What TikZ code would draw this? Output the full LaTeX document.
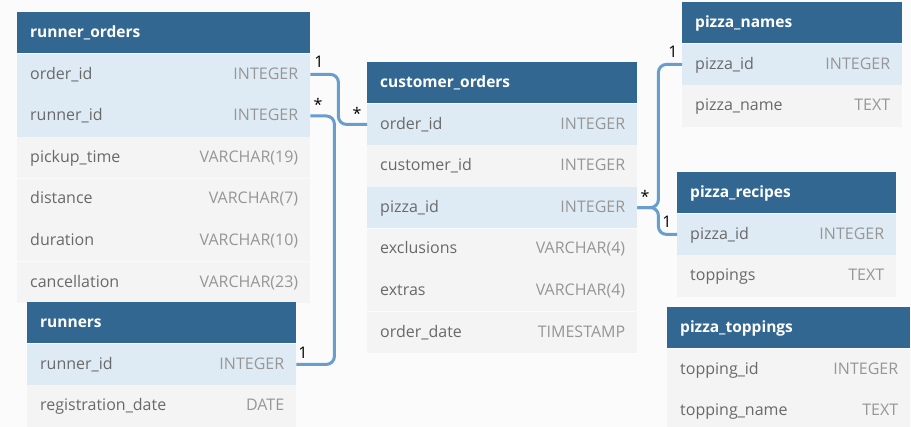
\documentclass[tikz,border=0pt]{standalone}
\usepackage{fontspec}
\setmainfont{Open Sans}
\definecolor{bgc}{RGB}{251,251,251}
\definecolor{hdrc}{RGB}{50,103,145}
\definecolor{keyc}{RGB}{222,235,245}
\definecolor{rowc}{RGB}{244,244,244}
\definecolor{fieldc}{RGB}{105,105,105}
\definecolor{typec}{RGB}{150,150,150}
\definecolor{relc}{RGB}{104,158,205}
\tikzset{
  hdrbox/.style={fill=hdrc, draw=none, inner sep=0pt, minimum height=41.2pt, anchor=north west},
  hdrtxt/.style={text=white, font=\fontsize{15.5}{18}\selectfont\bfseries, inner sep=0pt, anchor=base west},
  rowbox/.style={draw=none, inner sep=0pt, minimum height=41.2pt, anchor=north west},
  fieldtxt/.style={text=fieldc, font=\fontsize{16}{19}\selectfont, inner sep=0pt},
  typetxt/.style={text=typec, font=\fontsize{16}{19}\selectfont, inner sep=0pt},
  rel/.style={draw=relc, line width=3pt, rounded corners=8pt},
  card/.style={text=black, font=\fontsize{16}{18}\selectfont, inner sep=0pt}
}
\newcommand{\erhead}[5]{% name, x, y, width, title
  \node[hdrbox, minimum width=#4] (#1) at (#2,#3) {};
  \node[hdrtxt] (#1-t) at ([xshift=13pt,yshift=-4.8pt]#1.west) {#5};
}
\newcommand{\errow}[6]{% name, prev, fill, width, field, type
  \node[rowbox, fill=#3, minimum width=#4] (#1) at (#2.south west) {};
  \node[fieldtxt, anchor=base west] (#1-f) at ([xshift=13pt,yshift=-4.7pt]#1.west) {#5};
  \node[typetxt, anchor=base east] (#1-y) at ([xshift=-12pt,yshift=-4.7pt]#1.east) {#6};
}
\begin{document}
\begin{tikzpicture}[x=1pt,y=-1pt]
\useasboundingbox[fill=bgc] (0,0) rectangle (911,427);
% runner_orders
\erhead{ro}{17}{12}{293pt}{runner\_orders}
\errow{ro-order}{ro}{keyc}{293pt}{order\_id}{INTEGER}
\errow{ro-runner}{ro-order}{keyc}{293pt}{runner\_id}{INTEGER}
\errow{ro-pickup}{ro-runner}{rowc}{293pt}{pickup\_time}{VARCHAR(19)}
\errow{ro-dist}{ro-pickup}{rowc}{293pt}{distance}{VARCHAR(7)}
\errow{ro-dur}{ro-dist}{rowc}{293pt}{duration}{VARCHAR(10)}
\errow{ro-canc}{ro-dur}{rowc}{293pt}{cancellation}{VARCHAR(23)}
% runners
\erhead{rn}{27}{302}{269pt}{runners}
\errow{rn-runner}{rn}{keyc}{269pt}{runner\_id}{INTEGER}
\errow{rn-reg}{rn-runner}{rowc}{269pt}{registration\_date}{DATE}
% customer_orders
\erhead{co}{367}{62}{270pt}{customer\_orders}
\errow{co-order}{co}{keyc}{270pt}{order\_id}{INTEGER}
\errow{co-cust}{co-order}{rowc}{270pt}{customer\_id}{INTEGER}
\errow{co-pizza}{co-cust}{keyc}{270pt}{pizza\_id}{INTEGER}
\errow{co-excl}{co-pizza}{rowc}{270pt}{exclusions}{VARCHAR(4)}
\errow{co-extras}{co-excl}{rowc}{270pt}{extras}{VARCHAR(4)}
\errow{co-date}{co-extras}{rowc}{270pt}{order\_date}{TIMESTAMP}
% pizza_names
\erhead{pn}{682}{2}{220pt}{pizza\_names}
\errow{pn-pizza}{pn}{keyc}{220pt}{pizza\_id}{INTEGER}
\errow{pn-name}{pn-pizza}{rowc}{220pt}{pizza\_name}{TEXT}
% pizza_recipes
\erhead{pr}{677}{172}{219pt}{pizza\_recipes}
\errow{pr-pizza}{pr}{keyc}{219pt}{pizza\_id}{INTEGER}
\errow{pr-top}{pr-pizza}{rowc}{219pt}{toppings}{TEXT}
% pizza_toppings
\erhead{pt}{667}{307}{243pt}{pizza\_toppings}
\errow{pt-id}{pt}{rowc}{243pt}{topping\_id}{INTEGER}
\errow{pt-name}{pt-id}{rowc}{243pt}{topping\_name}{TEXT}
% relations
\draw[rel] (ro-order.east) -- ++(28,0) |- (co-order.west);
\draw[rel] (ro-runner.east) -- ++(24,0) |- (rn-runner.east);
\draw[rel] (co-pizza.east) -- ++(21,0) |- (pn-pizza.west);
\draw[rel] (co-pizza.east) -- ++(21,0) |- (pr-pizza.west);
% cardinalities
\node[card] (c1) at (319,62) {1};
\node[card] (c2) at (318,104) {*};
\node[card] (c3) at (357,113) {*};
\node[card] (c4) at (303,353) {1};
\node[card] (c5) at (645,196) {*};
\node[card] (c6) at (673,52) {1};
\node[card] (c7) at (667,222) {1};
\end{tikzpicture}
\end{document}
